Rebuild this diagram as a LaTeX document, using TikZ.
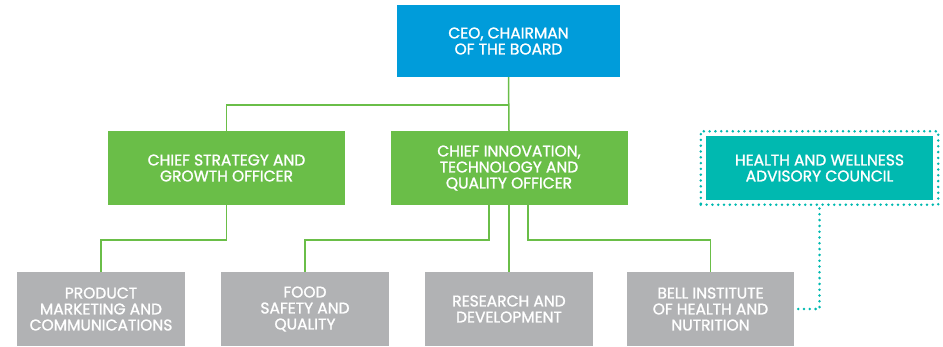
\documentclass[tikz,border=0pt]{standalone}
\usepackage{fontspec}
\setmainfont{Poppins}[BoldFont=Poppins, BoldFeatures={FakeBold=1.3}]
\usetikzlibrary{positioning, fit}
\definecolor{ceoblue}{RGB}{0,156,218}
\definecolor{orggreen}{RGB}{106,190,72}
\definecolor{advteal}{RGB}{0,185,176}
\definecolor{unitgray}{RGB}{177,178,180}

\begin{document}
\begin{tikzpicture}[
		x=1pt, y=-1pt,
		box/.style={rectangle, text=white, align=center, inner sep=0pt, font=\fontsize{15.5}{16}\selectfont\bfseries},
		topbox/.style={box, fill=ceoblue, minimum width=223pt, minimum height=72pt},
		chiefbox/.style={box, fill=orggreen, minimum width=237pt, minimum height=74pt},
		unitbox/.style={box, fill=unitgray, minimum width=168pt, minimum height=74pt},
		councilbox/.style={box, fill=advteal, minimum width=227pt, minimum height=64pt},
		dotframe/.style={draw=advteal, line width=2.8pt, line cap=round, dash pattern=on 0pt off 5.8pt},
		link/.style={draw=orggreen, line width=1.5pt}
	]

	\useasboundingbox (0, 0) rectangle (943, 346);

	\node[topbox] (ceo) at (508.5, 41) {CEO, CHAIRMAN\\OF THE BOARD};
	\node[chiefbox] (strategy) at (226.5, 168) {CHIEF STRATEGY AND\\GROWTH OFFICER};
	\node[chiefbox] (innovation) at (509, 168) {CHIEF INNOVATION,\\TECHNOLOGY AND\\QUALITY OFFICER};
	\node[councilbox] (council) at (819.5, 168) {HEALTH AND WELLNESS\\ADVISORY COUNCIL};
	\node[dotframe, fit=(council), inner xsep=5pt, inner ysep=4.5pt] (councilframe) {};

	\node[unitbox] (product) at (101, 309) {PRODUCT\\MARKETING AND\\COMMUNICATIONS};
	\node[unitbox] (food) at (305, 309) {FOOD\\SAFETY AND\\QUALITY};
	\node[unitbox] (research) at (509, 309) {RESEARCH AND\\DEVELOPMENT};
	\node[unitbox, minimum width=167pt] (bell) at (710.5, 309) {BELL INSTITUTE\\OF HEALTH AND\\NUTRITION};

	\draw[link] (ceo.south) -- (innovation.north);
	\draw[link] (ceo.south) ++(0, 28) -| (strategy.north);
	\draw[link] (strategy.south) -- ++(0, 35) -| (product.north);
	\draw[link] ([xshift=-20pt]innovation.south) -- ++(0, 35) -| (food.north);
	\draw[link] (innovation.south) -- (research.north);
	\draw[link] ([xshift=19pt]innovation.south) -- ++(0, 35) -| (bell.north);
	\draw[dotframe] ([xshift=4pt]bell.east) -| (councilframe.south);

\end{tikzpicture}
\end{document}
